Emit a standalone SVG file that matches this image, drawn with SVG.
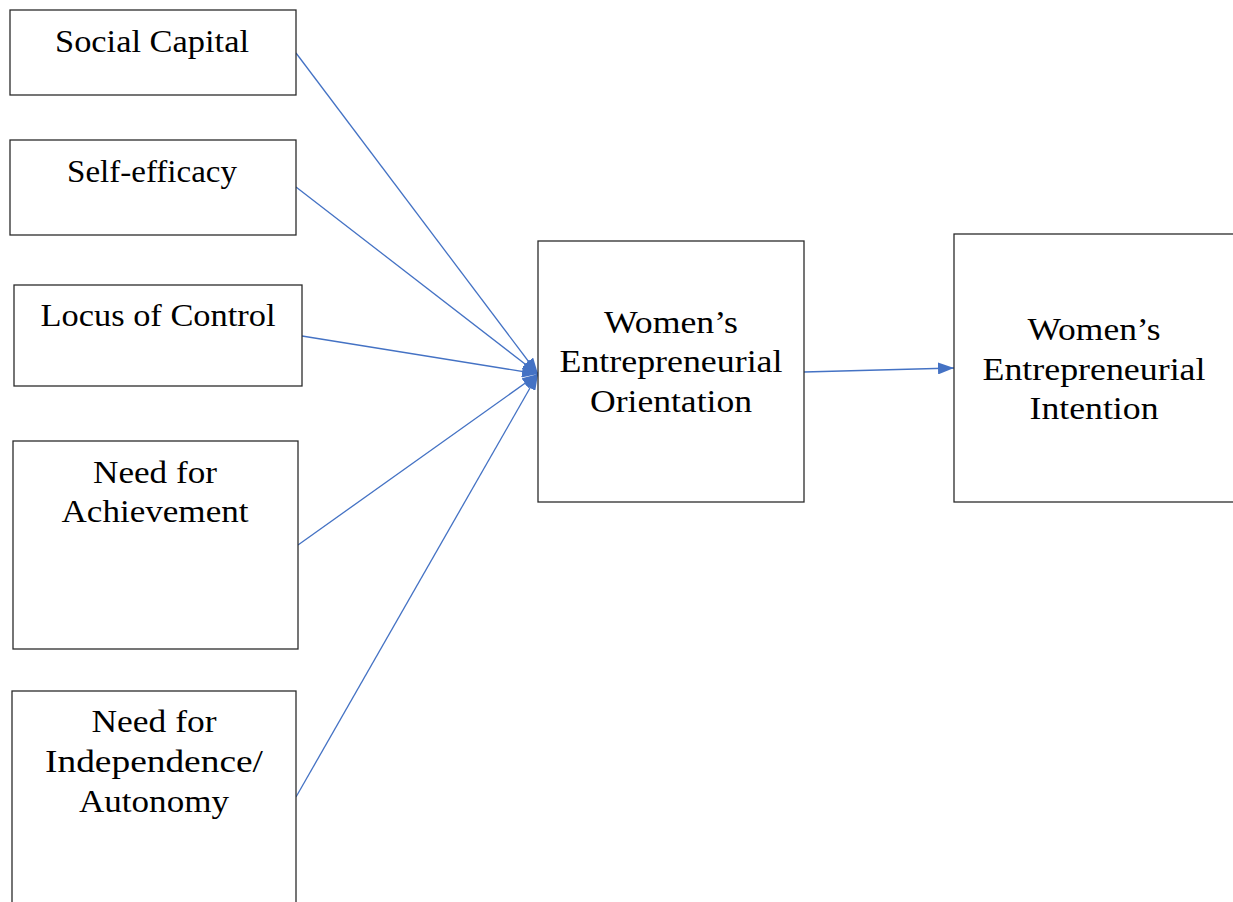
<svg xmlns="http://www.w3.org/2000/svg" width="1233" height="902" viewBox="0 0 1233 902">
  <style>
    .box { fill: #ffffff; stroke: #2b2b2b; stroke-width: 1.3; }
    .lbl { font-family: "Liberation Serif", "DejaVu Serif", serif; font-size: 31px; fill: #000000; text-anchor: middle; }
    .link { stroke: #4472C4; stroke-width: 1.3; fill: none; marker-end: url(#arrow); }
  </style>
  <defs>
    <marker id="arrow" markerWidth="16" markerHeight="12" refX="16" refY="6" orient="auto" markerUnits="userSpaceOnUse">
      <path d="M0,0 L16,6 L0,12 Z" fill="#4472C4"/>
    </marker>
  </defs>
  <rect width="1233" height="902" fill="#ffffff"/>

  <g id="connectors">
    <line class="link" x1="296" y1="53" x2="538" y2="374"/>
    <line class="link" x1="296" y1="187" x2="538" y2="374"/>
    <line class="link" x1="302" y1="336" x2="538" y2="374"/>
    <line class="link" x1="298" y1="545" x2="538" y2="374"/>
    <line class="link" x1="296" y1="797" x2="538" y2="374"/>
    <line class="link" x1="804" y1="372" x2="954" y2="368"/>
  </g>

  <g id="social-capital">
    <rect class="box" x="10" y="10" width="286" height="85"/>
    <text class="lbl" x="152" y="52" textLength="194" lengthAdjust="spacingAndGlyphs">Social Capital</text>
  </g>
  <g id="self-efficacy">
    <rect class="box" x="10" y="140" width="286" height="95"/>
    <text class="lbl" x="152" y="182" textLength="170" lengthAdjust="spacingAndGlyphs">Self-efficacy</text>
  </g>
  <g id="locus-of-control">
    <rect class="box" x="14" y="285" width="288" height="101"/>
    <text class="lbl" x="158" y="326" textLength="235" lengthAdjust="spacingAndGlyphs">Locus of Control</text>
  </g>
  <g id="need-for-achievement">
    <rect class="box" x="13" y="441" width="285" height="208"/>
    <text class="lbl" x="155" y="483" textLength="124" lengthAdjust="spacingAndGlyphs">Need for</text>
    <text class="lbl" x="155" y="522" textLength="187" lengthAdjust="spacingAndGlyphs">Achievement</text>
  </g>
  <g id="need-for-independence">
    <rect class="box" x="12" y="691" width="284" height="230"/>
    <text class="lbl" x="154" y="732" textLength="125" lengthAdjust="spacingAndGlyphs">Need for</text>
    <text class="lbl" x="154" y="772" textLength="218" lengthAdjust="spacingAndGlyphs">Independence/</text>
    <text class="lbl" x="154" y="812" textLength="150" lengthAdjust="spacingAndGlyphs">Autonomy</text>
  </g>
  <g id="entrepreneurial-orientation">
    <rect class="box" x="538" y="241" width="266" height="261"/>
    <text class="lbl" x="671" y="333" textLength="134" lengthAdjust="spacingAndGlyphs">Women’s</text>
    <text class="lbl" x="671" y="372" textLength="223" lengthAdjust="spacingAndGlyphs">Entrepreneurial</text>
    <text class="lbl" x="671" y="412" textLength="162" lengthAdjust="spacingAndGlyphs">Orientation</text>
  </g>
  <g id="entrepreneurial-intention">
    <rect class="box" x="954" y="234" width="300" height="268"/>
    <text class="lbl" x="1094" y="340" textLength="133" lengthAdjust="spacingAndGlyphs">Women’s</text>
    <text class="lbl" x="1094" y="380" textLength="223" lengthAdjust="spacingAndGlyphs">Entrepreneurial</text>
    <text class="lbl" x="1094" y="419" textLength="129" lengthAdjust="spacingAndGlyphs">Intention</text>
  </g>
</svg>
